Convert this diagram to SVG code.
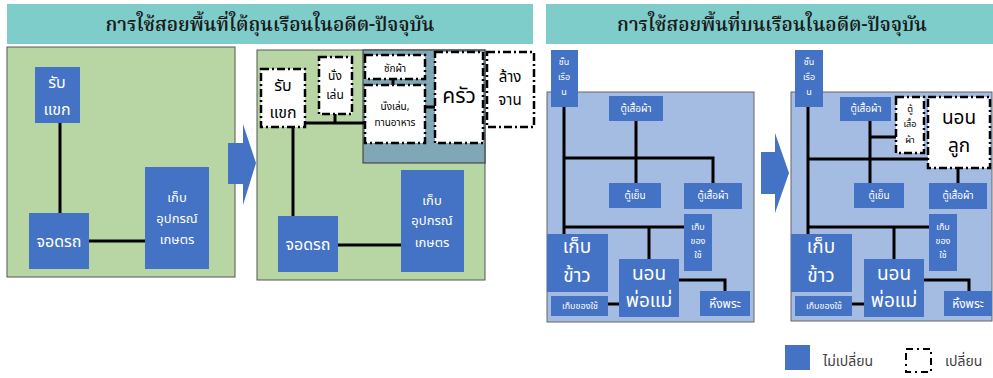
<svg xmlns="http://www.w3.org/2000/svg" width="993" height="378" viewBox="0 0 993 378">
<style>
.title{font-family:"Noto Serif Thai","Liberation Serif","DejaVu Serif",serif;font-size:19px;fill:#1a1a1a;text-anchor:middle;font-weight:600}
.bar{fill:#7fcdcb}
.green{fill:#b8d6a3;stroke:#555;stroke-width:1}
.bluebg{fill:#a4bbe2;stroke:#666;stroke-width:1}
.teal{fill:#7fa7b5;stroke:#333;stroke-width:1}
.n{fill:#4472c4}
.d{fill:#fff;stroke:#000;stroke-width:2.5;stroke-dasharray:8 3 2 3}
.t{font-family:"Noto Sans Thai","Noto Sans","DejaVu Sans",sans-serif;fill:#fff;text-anchor:middle}
.k{font-family:"Noto Sans Thai","Noto Sans","DejaVu Sans",sans-serif;fill:#000;text-anchor:middle}
.lg{font-family:"Noto Sans Thai","Noto Sans","DejaVu Sans",sans-serif;fill:#404040;font-size:14px}
.c line,.c polyline{stroke:#000;stroke-width:3;fill:none}
.arrow{fill:#4472c4}
</style>
<rect class="bar" x="7" y="4" width="526" height="40"/>
<text class="title" x="270" y="31">การใช้สอยพื้นที่ใต้ถุนเรือนในอดีต-ปัจจุบัน</text>
<rect class="bar" x="546" y="4" width="447" height="40"/>
<text class="title" x="772" y="31">การใช้สอยพื้นที่บนเรือนในอดีต-ปัจจุบัน</text>

<rect class="green" x="7" y="47" width="228" height="230"/>
<rect class="green" x="257" y="50" width="228" height="230"/>
<rect class="teal" x="363" y="50" width="122" height="113"/>
<rect class="bluebg" x="547" y="92" width="207" height="230"/>
<rect class="bluebg" x="791" y="92" width="201" height="229"/>

<polygon class="arrow" points="228,143 243,143 243,124 256,163 243,205 243,184 228,184"/>
<polygon class="arrow" points="761,152 775,152 775,133 789,173 775,213 775,194 761,194"/>

<g class="c" id="connectors">
<line x1="60" y1="123" x2="60" y2="213"/>
<line x1="89" y1="241" x2="145" y2="241"/>
<line x1="293" y1="127" x2="293" y2="216"/>
<line x1="305" y1="123" x2="365" y2="123"/>
<line x1="335" y1="114" x2="335" y2="123"/>
<line x1="338" y1="245" x2="401" y2="245"/>
<line x1="425" y1="107" x2="435" y2="107"/>
<line x1="393" y1="79" x2="393" y2="86"/>
<line x1="564" y1="107" x2="564" y2="234"/>
<polyline points="564,158 713,158 713,183"/>
<line x1="636" y1="121" x2="636" y2="183"/>
<line x1="564" y1="227" x2="684" y2="227"/>
<line x1="649" y1="227" x2="649" y2="259"/>
<polyline points="679,280 725,280 725,291"/>
<line x1="608" y1="304" x2="619" y2="304"/>
<line x1="808" y1="107" x2="808" y2="234"/>
<line x1="808" y1="159" x2="928" y2="159"/>
<line x1="870" y1="121" x2="870" y2="183"/>
<line x1="870" y1="137" x2="896" y2="137"/>
<line x1="958" y1="168" x2="958" y2="183"/>
<line x1="808" y1="227" x2="929" y2="227"/>
<line x1="894" y1="227" x2="894" y2="259"/>
<polyline points="924,280 969,280 969,291"/>
<line x1="852" y1="304" x2="864" y2="304"/>
</g>

<g id="p1-rubkhaek"><rect class="n" x="35" y="67" width="45" height="56"/><text class="t" font-size="16"><tspan x="57" y="88">รับ</tspan><tspan x="57" y="115">แขก</tspan></text></g>
<g id="p1-jodrot"><rect class="n" x="29" y="213" width="60" height="56"/><text class="t" font-size="16" x="59" y="247">จอดรถ</text></g>
<g id="p1-kep"><rect class="n" x="145" y="167" width="64" height="102"/><text class="t" font-size="13"><tspan x="177" y="202">เก็บ</tspan><tspan x="177" y="223">อุปกรณ์</tspan><tspan x="177" y="244">เกษตร</tspan></text></g>

<g id="p2-rubkhaek"><rect class="d" x="261" y="69" width="44" height="58"/><text class="k" font-size="16"><tspan x="283" y="91">รับ</tspan><tspan x="283" y="118">แขก</tspan></text></g>
<g id="p2-nanglen"><rect class="d" x="319" y="57" width="33" height="57"/><text class="k" font-size="12"><tspan x="335" y="80">นั่ง</tspan><tspan x="335" y="99">เล่น</tspan></text></g>
<g id="p2-sakpha"><rect class="d" x="365" y="55" width="60" height="24"/><text class="k" font-size="10" x="395" y="72">ซักผ้า</text></g>
<g id="p2-nanglen-thanahan"><rect class="d" x="365" y="85" width="60" height="58"/><text class="k" font-size="10"><tspan x="395" y="110">นั่งเล่น,</tspan><tspan x="395" y="126">ทานอาหาร</tspan></text></g>
<g id="p2-khrua"><rect class="d" x="435" y="52" width="48" height="91"/><text class="k" font-size="21" x="459" y="103">ครัว</text></g>
<g id="p2-langjan"><rect class="d" x="487" y="52" width="47" height="75"/><text class="k" font-size="15"><tspan x="510" y="82">ล้าง</tspan><tspan x="510" y="105">จาน</tspan></text></g>
<g id="p2-jodrot"><rect class="n" x="278" y="216" width="60" height="56"/><text class="t" font-size="16" x="308" y="250">จอดรถ</text></g>
<g id="p2-kep"><rect class="n" x="401" y="170" width="63" height="102"/><text class="t" font-size="13"><tspan x="432" y="205">เก็บ</tspan><tspan x="432" y="225">อุปกรณ์</tspan><tspan x="432" y="247">เกษตร</tspan></text></g>

<g id="p3-chanruean"><rect class="n" x="551" y="50" width="27" height="57"/><text class="t" font-size="9"><tspan x="564" y="65">ชั้น</tspan><tspan x="564" y="80">เรือ</tspan><tspan x="564" y="95">น</tspan></text></g>
<g id="p3-tu1"><rect class="n" x="609" y="96" width="54" height="25"/><text class="t" font-size="10" x="636" y="112">ตู้เสื้อผ้า</text></g>
<g id="p3-tuyen"><rect class="n" x="609" y="183" width="52" height="25"/><text class="t" font-size="10" x="635" y="199">ตู้เย็น</text></g>
<g id="p3-tu2"><rect class="n" x="684" y="183" width="58" height="26"/><text class="t" font-size="10" x="713" y="199">ตู้เสื้อผ้า</text></g>
<g id="p3-kepkhongchai"><rect class="n" x="684" y="214" width="28" height="57"/><text class="t" font-size="9"><tspan x="698" y="230">เก็บ</tspan><tspan x="698" y="244">ของ</tspan><tspan x="698" y="258">ใช้</tspan></text></g>
<g id="p3-kepkhao"><rect class="n" x="547" y="234" width="61" height="58"/><text class="t" font-size="19"><tspan x="577" y="253">เก็บ</tspan><tspan x="577" y="282">ข้าว</tspan></text></g>
<g id="p3-nonphomae"><rect class="n" x="619" y="259" width="60" height="58"/><text class="t" font-size="19"><tspan x="649" y="280">นอน</tspan><tspan x="649" y="307">พ่อแม่</tspan></text></g>
<g id="p3-kepkhongchai-s"><rect class="n" x="551" y="296" width="57" height="20"/><text class="t" font-size="9" x="580" y="309">เก็บของใช้</text></g>
<g id="p3-hingphra"><rect class="n" x="700" y="291" width="50" height="25"/><text class="t" font-size="12" x="725" y="308">หิ้งพระ</text></g>

<g id="p4-chanruean"><rect class="n" x="795" y="50" width="28" height="57"/><text class="t" font-size="9"><tspan x="809" y="65">ชั้น</tspan><tspan x="809" y="80">เรือ</tspan><tspan x="809" y="95">น</tspan></text></g>
<g id="p4-tu1"><rect class="n" x="840" y="97" width="51" height="24"/><text class="t" font-size="10" x="866" y="112">ตู้เสื้อผ้า</text></g>
<g id="p4-tu-new"><rect class="d" x="896" y="97" width="28" height="56"/><text class="k" font-size="9"><tspan x="910" y="112">ตู้</tspan><tspan x="910" y="127">เสื้อ</tspan><tspan x="910" y="143">ผ้า</tspan></text></g>
<g id="p4-nonluk"><rect class="d" x="928" y="97" width="62" height="71"/><text class="k" font-size="19"><tspan x="959" y="124">นอน</tspan><tspan x="959" y="152">ลูก</tspan></text></g>
<g id="p4-tuyen"><rect class="n" x="854" y="183" width="50" height="25"/><text class="t" font-size="10" x="879" y="199">ตู้เย็น</text></g>
<g id="p4-tu2"><rect class="n" x="929" y="183" width="58" height="26"/><text class="t" font-size="10" x="958" y="199">ตู้เสื้อผ้า</text></g>
<g id="p4-kepkhongchai"><rect class="n" x="929" y="214" width="28" height="57"/><text class="t" font-size="9"><tspan x="943" y="230">เก็บ</tspan><tspan x="943" y="244">ของ</tspan><tspan x="943" y="258">ใช้</tspan></text></g>
<g id="p4-kepkhao"><rect class="n" x="791" y="234" width="61" height="58"/><text class="t" font-size="19"><tspan x="821" y="253">เก็บ</tspan><tspan x="821" y="282">ข้าว</tspan></text></g>
<g id="p4-nonphomae"><rect class="n" x="864" y="259" width="60" height="58"/><text class="t" font-size="19"><tspan x="894" y="280">นอน</tspan><tspan x="894" y="307">พ่อแม่</tspan></text></g>
<g id="p4-kepkhongchai-s"><rect class="n" x="795" y="296" width="57" height="20"/><text class="t" font-size="9" x="824" y="309">เก็บของใช้</text></g>
<g id="p4-hingphra"><rect class="n" x="944" y="291" width="48" height="25"/><text class="t" font-size="12" x="968" y="308">หิ้งพระ</text></g>

<g id="legend">
<rect class="n" x="785" y="345" width="25" height="25"/>
<text class="lg" x="823" y="366">ไม่เปลี่ยน</text>
<rect x="906" y="349" width="25" height="23" fill="#fff" stroke="#000" stroke-width="2" stroke-dasharray="7 4 2 4"/>
<text class="lg" x="945" y="366">เปลี่ยน</text>
</g>
</svg>
